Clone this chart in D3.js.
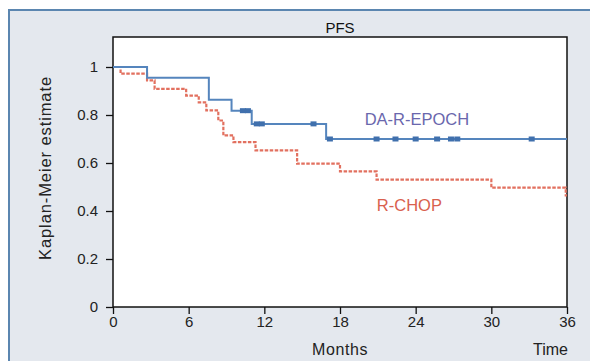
<!DOCTYPE html>
<html>
<head>
<meta charset="utf-8">
<script src="https://cdn.jsdelivr.net/npm/d3@7"></script>
<style>
  body { margin: 0; background: #fff; }
  text { font-family: "Liberation Sans", Arial, sans-serif; }
</style>
</head>
<body>
<div id="chart"></div>
<script>
// step curves: [month, survival from that month on]
var epochSteps = [[0, 1], [2.7, 0.955], [7.6, 0.864], [9.4, 0.818], [11.0, 0.763], [16.9, 0.70], [36, 0.70]]
var epochCensor = [[10.3, 0.818], [10.7, 0.818], [11.4, 0.763], [11.8, 0.763], [15.9, 0.763], [17.2, 0.70],
                   [20.9, 0.70], [22.4, 0.70], [24.0, 0.70], [25.7, 0.70], [26.8, 0.70], [27.3, 0.70], [33.2, 0.70]]
var chopSteps = [[0, 1], [0.6, 0.972], [2.7, 0.944], [3.3, 0.909], [5.8, 0.881], [6.8, 0.853], [7.4, 0.819],
                 [8.35, 0.777], [8.75, 0.715], [9.55, 0.687], [11.3, 0.653], [14.6, 0.597], [18.0, 0.565],
                 [20.9, 0.531], [30.0, 0.497], [35.9, 0.465], [36, 0.465]]
var xTicks = [0, 6, 12, 18, 24, 30, 36]
var yTicks = [0, 0.2, 0.4, 0.6, 0.8, 1]

var width = 590, height = 361
var margin = {left: 113, right: 23, top: 37, bottom: 54}

var svg = d3.select("#chart").append("svg")
    .attr("width", width)
    .attr("height", height)

// outer panel
svg.append("rect")
    .attr("x", 9).attr("y", 10)
    .attr("width", 600).attr("height", 400)
    .attr("fill", "#e4e8ee")
    .attr("stroke", "#5b86b0")
    .attr("stroke-width", 2)

var x = d3.scaleLinear().domain([0, 36]).range([margin.left, width - margin.right])
var y = d3.scaleLinear().domain([0, 1.125]).range([height - margin.bottom, margin.top])

svg.append("rect")
    .attr("x", x(0)).attr("y", y(1.125))
    .attr("width", x(36) - x(0)).attr("height", y(0) - y(1.125))
    .attr("fill", "#fff")
    .attr("stroke", "#111")
    .attr("stroke-width", 1.5)

var line = d3.line()
    .x(function(d) { return x(d[0]) })
    .y(function(d) { return y(d[1]) })
    .curve(d3.curveStepAfter)

svg.append("path")
    .datum(chopSteps)
    .attr("fill", "none")
    .attr("stroke", "#e2705f")
    .attr("stroke-width", 2.2)
    .attr("stroke-dasharray", "3.5,1.5")
    .attr("d", line)

svg.append("path")
    .datum(epochSteps)
    .attr("fill", "none")
    .attr("stroke", "#5585bd")
    .attr("stroke-width", 2)
    .attr("d", line)

svg.selectAll(".cens")
    .data(epochCensor)
    .enter().append("rect")
    .attr("x", function(d) { return x(d[0]) - 3 })
    .attr("y", function(d) { return y(d[1]) - 2.5 })
    .attr("width", 6).attr("height", 5)
    .attr("fill", "#4070ad")

// axes
var xAxis = svg.append("g")
    .attr("transform", "translate(0," + y(0) + ")")
    .call(d3.axisBottom(x).tickValues(xTicks).tickSize(7).tickSizeOuter(0))
xAxis.select(".domain").remove()
xAxis.selectAll("line").attr("stroke", "#111").attr("stroke-width", 1.3)
xAxis.selectAll("text").attr("font-size", 15).attr("fill", "#222").attr("y", 9)

var yAxis = svg.append("g")
    .attr("transform", "translate(" + x(0) + ",0)")
    .call(d3.axisLeft(y).tickValues(yTicks).tickSize(7).tickFormat(d3.format("~g")))
yAxis.select(".domain").remove()
yAxis.selectAll("line").attr("stroke", "#111").attr("stroke-width", 1.3)
yAxis.selectAll("text").attr("font-size", 15).attr("fill", "#222").attr("x", -15)

svg.append("text").text("PFS")
    .attr("x", (x(0) + x(36)) / 2).attr("y", 33)
    .attr("text-anchor", "middle").attr("font-size", 15).attr("fill", "#111")

svg.append("text").text("Months")
    .attr("x", x(18)).attr("y", 355)
    .attr("text-anchor", "middle").attr("font-size", 16).attr("fill", "#222")
    .attr("letter-spacing", 0.6)

svg.append("text").text("Time")
    .attr("x", x(36) + 1).attr("y", 355)
    .attr("text-anchor", "end").attr("font-size", 16).attr("fill", "#222")

svg.append("text").text("Kaplan-Meier estimate")
    .attr("transform", "translate(51,168) rotate(-90)")
    .attr("text-anchor", "middle").attr("font-size", 16.5).attr("fill", "#222")
    .attr("letter-spacing", 0.9)

svg.append("text").text("DA-R-EPOCH")
    .attr("x", x(24.1)).attr("y", y(0.76))
    .attr("text-anchor", "middle").attr("font-size", 16.5).attr("fill", "#6a67ad")

svg.append("text").text("R-CHOP")
    .attr("x", x(23.5)).attr("y", y(0.4))
    .attr("text-anchor", "middle").attr("font-size", 16.5).attr("fill", "#d9604e")
</script>
</body>
</html>
